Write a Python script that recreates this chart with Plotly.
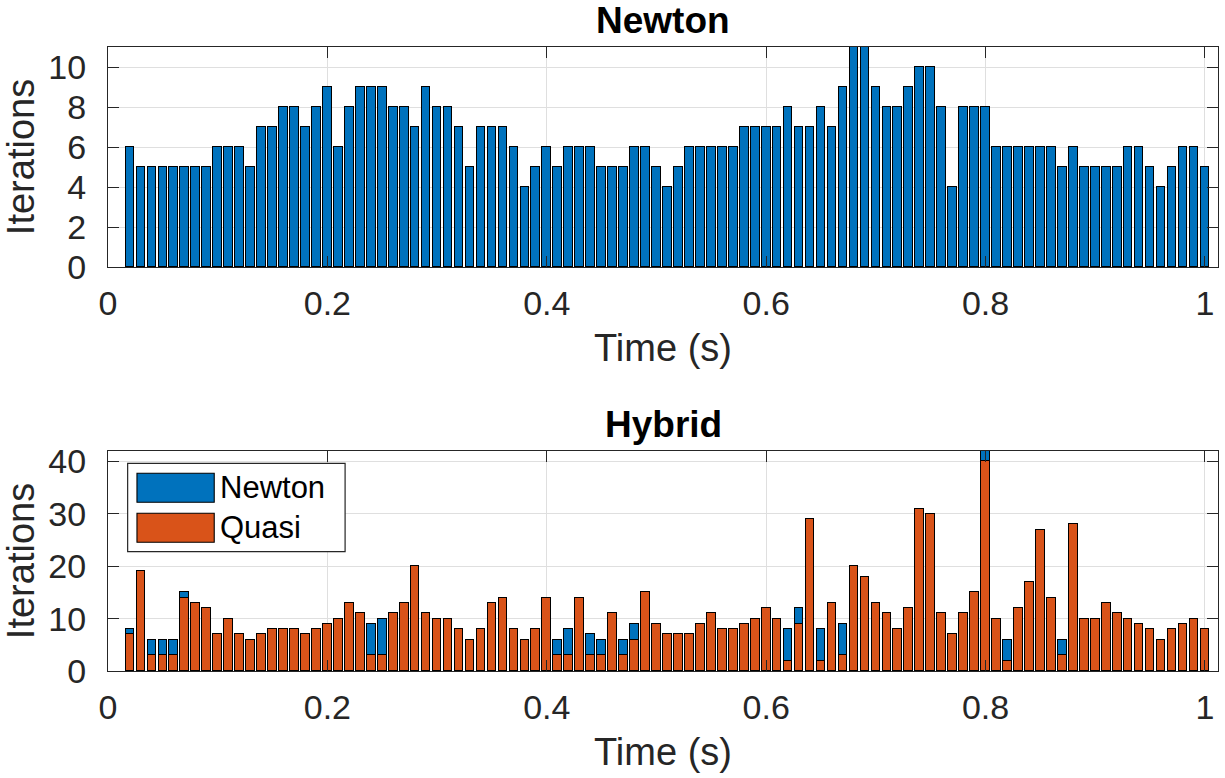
import plotly.graph_objects as go
from plotly.subplots import make_subplots

# Simulation time steps (s)
time_s = [round(0.01 * k, 2) for k in range(2, 101)]

# Newton solver: iterations per time step
newton_iters = [
    6, 5, 5, 5, 5, 5, 5, 5, 6, 6,   # 0.02 - 0.11
    6, 5, 7, 7, 8, 8, 7, 8, 9, 6,   # 0.12 - 0.21
    8, 9, 9, 9, 8, 8, 7, 9, 8, 8,   # 0.22 - 0.31
    7, 5, 7, 7, 7, 6, 4, 5, 6, 5,   # 0.32 - 0.41
    6, 6, 6, 5, 5, 5, 6, 6, 5, 4,   # 0.42 - 0.51
    5, 6, 6, 6, 6, 6, 7, 7, 7, 7,   # 0.52 - 0.61
    8, 7, 7, 8, 7, 9, 11, 11, 9, 8, # 0.62 - 0.71
    8, 9, 10, 10, 8, 4, 8, 8, 8, 6, # 0.72 - 0.81
    6, 6, 6, 6, 6, 5, 6, 5, 5, 5,   # 0.82 - 0.91
    5, 6, 6, 5, 4, 5, 6, 6, 5,      # 0.92 - 1.00
]

# Hybrid solver: quasi-Newton iterations per time step
hybrid_quasi = [
    7, 19, 3, 3, 3, 14, 13, 12, 7, 10,    # 0.02 - 0.11
    7, 6, 7, 8, 8, 8, 7, 8, 9, 10,        # 0.12 - 0.21
    13, 11, 3, 3, 11, 13, 20, 11, 10, 10, # 0.22 - 0.31
    8, 6, 8, 13, 14, 8, 6, 8, 14, 3,      # 0.32 - 0.41
    3, 14, 3, 3, 11, 3, 6, 15, 9, 7,      # 0.42 - 0.51
    7, 7, 9, 11, 8, 8, 9, 10, 12, 10,     # 0.52 - 0.61
    2, 9, 29, 2, 13, 3, 20, 18, 13, 11,   # 0.62 - 0.71
    8, 12, 31, 30, 11, 7, 11, 15, 40, 10, # 0.72 - 0.81
    2, 12, 17, 27, 14, 3, 28, 10, 10, 13, # 0.82 - 0.91
    11, 10, 9, 8, 6, 8, 9, 10, 8,         # 0.92 - 1.00
]

# Hybrid solver: full Newton iterations per time step (stacked above quasi)
hybrid_newton = [
    1, 0, 3, 3, 3, 1, 0, 0, 0, 0,   # 0.02 - 0.11
    0, 0, 0, 0, 0, 0, 0, 0, 0, 0,   # 0.12 - 0.21
    0, 0, 6, 7, 0, 0, 0, 0, 0, 0,   # 0.22 - 0.31
    0, 0, 0, 0, 0, 0, 0, 0, 0, 3,   # 0.32 - 0.41
    5, 0, 4, 3, 0, 3, 3, 0, 0, 0,   # 0.42 - 0.51
    0, 0, 0, 0, 0, 0, 0, 0, 0, 0,   # 0.52 - 0.61
    6, 3, 0, 6, 0, 6, 0, 0, 0, 0,   # 0.62 - 0.71
    0, 0, 0, 0, 0, 0, 0, 0, 2, 0,   # 0.72 - 0.81
    4, 0, 0, 0, 0, 3, 0, 0, 0, 0,   # 0.82 - 0.91
    0, 0, 0, 0, 0, 0, 0, 0, 0,      # 0.92 - 1.00
]

x_ticks = [0, 0.2, 0.4, 0.6, 0.8, 1.0]
x_tick_text = ["0", "0.2", "0.4", "0.6", "0.8", "1"]
top_y_ticks = [0, 2, 4, 6, 8, 10]
bottom_y_ticks = [0, 10, 20, 30, 40]

BLUE = "#0072BD"
ORANGE = "#D95319"
AX = "#262626"
GRID = "#dfdfdf"
FONT = "Liberation Sans, Arial, sans-serif"

W, H = 1225, 778
M_L, M_R, M_T, M_B = 108, 7, 47, 107
PLOT_H = H - M_T - M_B


def py(pix_y):
    """Convert a pixel row (from the top of the page) to paper y."""
    return (H - M_B - pix_y) / PLOT_H


fig = make_subplots(rows=2, cols=1)

bar_line = dict(color="#000000", width=1.1)

fig.add_trace(go.Bar(x=time_s, y=newton_iters, width=0.0079,
                     marker=dict(color=BLUE, line=bar_line),
                     name="Newton", showlegend=False), row=1, col=1)
fig.add_trace(go.Bar(x=time_s, y=hybrid_quasi, width=0.0079,
                     marker=dict(color=ORANGE, line=bar_line),
                     name="Quasi", showlegend=False), row=2, col=1)
fig.add_trace(go.Bar(x=time_s, y=hybrid_newton, width=0.0079,
                     marker=dict(color=BLUE, line=bar_line),
                     name="Newton", showlegend=False), row=2, col=1)

axis_common = dict(
    showline=True, linecolor=AX, linewidth=1.2, mirror="ticks",
    ticks="inside", ticklen=11, tickcolor=AX, tickwidth=1.2,
    showgrid=True, gridcolor=GRID, gridwidth=1, zeroline=False,
    tickfont=dict(family=FONT, size=34, color=AX),
)

x_range = [0, 1.0119]
fig.update_xaxes(**axis_common, range=x_range, tickvals=x_ticks,
                 ticktext=x_tick_text, ticklabelstandoff=6,
                 title=dict(text="Time (s)", font=dict(family=FONT, size=38, color=AX),
                            standoff=13))
fig.update_yaxes(**axis_common, ticklabelstandoff=14,
                 title=dict(text="Iterations", font=dict(family=FONT, size=38, color=AX),
                            standoff=14))

fig.update_yaxes(range=[0, 11], tickvals=top_y_ticks, row=1, col=1)
fig.update_yaxes(range=[0, 42], tickvals=bottom_y_ticks, row=2, col=1)

fig.update_layout(
    xaxis=dict(domain=[0, 1]),
    yaxis=dict(domain=[py(267), 1.0]),
    xaxis2=dict(domain=[0, 1]),
    yaxis2=dict(domain=[0.0, py(451)]),
)

# Panel titles
titles = [("Newton", 21), ("Hybrid", 424)]
for text, ypix in titles:
    fig.add_annotation(text=f"<b>{text}</b>", x=0.5, xref="paper", y=py(ypix),
                       yref="paper", xanchor="center", yanchor="middle",
                       showarrow=False, font=dict(family=FONT, size=37, color="#000000"))

# Legend for the Hybrid panel, drawn with large swatches
dx = "x2 domain"
dy = "y2 domain"
fig.add_shape(type="rect", xref=dx, yref=dy, x0=0.0177, x1=0.2136, y0=0.5423, y1=0.9441,
              fillcolor="white", line=dict(color=AX, width=1.2), layer="above")
legend_items = [("Newton", BLUE, 0.7668, 0.8986), ("Quasi", ORANGE, 0.585, 0.7168)]
for label, color, y0, y1 in legend_items:
    fig.add_shape(type="rect", xref=dx, yref=dy, x0=0.0261, x1=0.0957, y0=y0, y1=y1,
                  fillcolor=color, line=dict(color="#000000", width=1.1), layer="above")
    fig.add_annotation(text=label, xref=dx, yref=dy, x=0.0995, y=(y0 + y1) / 2,
                       xanchor="left", yanchor="middle", showarrow=False,
                       font=dict(family=FONT, size=31, color="#000000"))

fig.update_layout(
    width=W, height=H,
    margin=dict(l=M_L, r=M_R, t=M_T, b=M_B),
    barmode="stack", bargap=0,
    plot_bgcolor="white", paper_bgcolor="white",
    showlegend=False,
    font=dict(family=FONT, color=AX),
)

fig.write_html("out.html")
